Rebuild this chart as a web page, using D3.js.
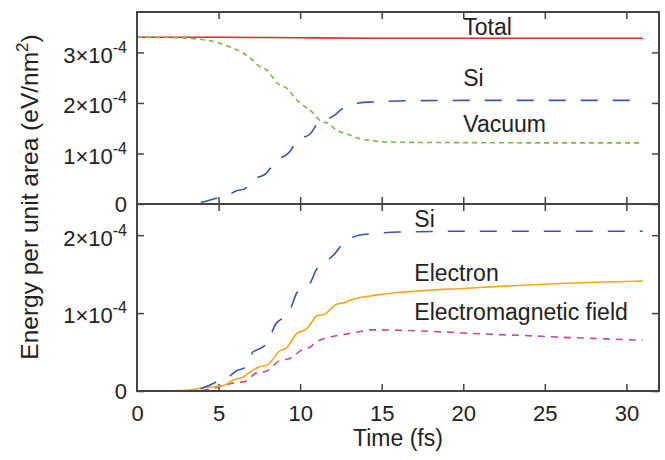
<!DOCTYPE html>
<html>
<head>
<meta charset="utf-8">
<script src="https://cdn.jsdelivr.net/npm/d3@7"></script>
<style>
  body { margin: 0; background: #fff; }
  svg { display: block; font-family: "Liberation Sans", Arial, Helvetica, sans-serif; }
  .tick line { stroke: #444; stroke-width: 1.5; }
  .tick text { fill: #222; font-size: 22px; }
  .frame { fill: none; stroke: #444; stroke-width: 2; }
  .label { fill: #222; font-size: 23px; }
</style>
</head>
<body>
<div id="chart"></div>
<script>
// energies in units of 1e-4 eV/nm^2, time in fs
const totalT = [0, 5, 10, 15, 20, 25, 31];
const totalE = [3.30, 3.30, 3.29, 3.28, 3.28, 3.28, 3.28];

const siT = [0, 3.5, 3.9, 4.4, 4.8, 5.3, 5.6, 6.1, 6.6, 6.9, 7.1, 7.5, 7.9, 8.2, 8.5, 9.1, 9.4, 9.8, 10.2, 10.6,
  11.0, 11.4, 11.8, 12.2, 12.6, 13.1, 13.6, 14.5, 16, 20, 25, 31];
const siE = [0, 0, 0.03, 0.07, 0.11, 0.15, 0.18, 0.26, 0.30, 0.40, 0.50, 0.54, 0.60, 0.72, 0.86, 0.96, 1.05, 1.26, 1.32, 1.38,
  1.56, 1.65, 1.70, 1.78, 1.89, 1.96, 2.00, 2.02, 2.04, 2.05, 2.05, 2.05];

const vacT = [0, 2.6, 3.85, 4.9, 5.5, 6.2, 6.9, 7.4, 8.0, 8.6, 9.25, 9.7, 10.2, 10.8, 11.3, 11.7, 12.2, 13.0, 13.8,
  14.5, 15.1, 16.7, 20, 25, 31];
const vacE = [3.30, 3.29, 3.26, 3.20, 3.13, 3.04, 2.90, 2.75, 2.64, 2.39, 2.27, 2.09, 1.95, 1.80, 1.63, 1.60, 1.47, 1.37, 1.28,
  1.25, 1.23, 1.22, 1.215, 1.21, 1.21];

const elT = [0, 3, 4, 4.7, 5.3, 5.9, 6.5, 6.9, 7.5, 8.0, 8.3, 8.7, 9.15, 9.4, 9.8, 10.35, 10.6, 11.0, 11.55, 11.85,
  12.2, 12.8, 13.2, 13.7, 14.3, 15, 16, 17, 18, 20, 22, 24, 26, 28, 31];
const elE = [0, 0.01, 0.04, 0.055, 0.07, 0.14, 0.18, 0.24, 0.31, 0.335, 0.40, 0.51, 0.55, 0.62, 0.74, 0.79, 0.85, 0.96, 0.99, 1.05,
  1.11, 1.14, 1.175, 1.20, 1.22, 1.24, 1.265, 1.28, 1.295, 1.315, 1.34, 1.36, 1.38, 1.395, 1.41];

const emT = [0, 3.5, 4.7, 5.4, 6.0, 6.6, 7.3, 7.9, 8.75, 9.4, 10.2, 10.6, 11.0, 11.6, 12.2, 12.8, 13.6, 14.3,
  15, 16, 18, 20, 22, 24, 26, 28, 31];
const emE = [0, 0, 0.035, 0.077, 0.107, 0.12, 0.23, 0.25, 0.39, 0.42, 0.54, 0.56, 0.63, 0.68, 0.71, 0.73, 0.76, 0.785,
  0.785, 0.78, 0.765, 0.745, 0.725, 0.71, 0.69, 0.675, 0.65];

const xTicks = [0, 5, 10, 15, 20, 25, 30];
const topTicks = [0, 1, 2, 3];
const botTicks = [0, 1, 2];

const topLabels = [{text: 'Total', t: 20, e: 3.35}, {text: 'Si', t: 20, e: 2.34}, {text: 'Vacuum', t: 20, e: 1.43}];
const botLabels = [{text: 'Si', t: 17, e: 2.11}, {text: 'Electron', t: 17, e: 1.41}, {text: 'Electromagnetic field', t: 17, e: 0.91}];

const W = 665, H = 460;
const L = 137, R = 659, T = 12, MID = 204, B = 391;

const svg = d3.select('#chart').append('svg').attr('width', W).attr('height', H);

const x = d3.scaleLinear().domain([0, 32]).range([L, R]);
const yTop = d3.scaleLinear().domain([0, 3.8]).range([MID, T]);
const yBot = d3.scaleLinear().domain([0, 2.4]).range([B, MID]);

const zip = (ts, es) => ts.map((t, i) => [t, es[i]]);

const drawPanel = (y, series, ticks, labels) => {
  const g = svg.append('g');
  // y ticks left with labels
  const yl = g.append('g').attr('transform', `translate(${L},0)`)
    .call(d3.axisLeft(y).tickValues(ticks).tickSize(-7).tickPadding(10).tickFormat(''));
  yl.select('.domain').remove();
  yl.selectAll('.tick text').each(function(d) {
    const t = d3.select(this);
    if (d === 0) { t.text('0').attr('dy', '0.34em'); return; }
    t.attr('dy', '0.45em');
    t.append('tspan').text(d + '\u00d710');
    t.append('tspan').text('-4').attr('font-size', '16px').attr('dy', '-10');
  });
  const yr = g.append('g').attr('transform', `translate(${R},0)`)
    .call(d3.axisRight(y).tickValues(ticks).tickSize(-7).tickFormat(''));
  yr.select('.domain').remove();
  // x ticks along top and bottom edge of this panel
  const [y0, y1] = y.range();
  const xb = g.append('g').attr('transform', `translate(0,${y0})`)
    .call(d3.axisBottom(x).tickValues(xTicks.slice(1)).tickSize(-7).tickFormat(''));
  xb.select('.domain').remove();
  const xt = g.append('g').attr('transform', `translate(0,${y1})`)
    .call(d3.axisTop(x).tickValues(xTicks.slice(1)).tickSize(-7).tickFormat(''));
  xt.select('.domain').remove();

  series.forEach(s => {
    g.append('path')
      .datum(zip(s.t, s.e))
      .attr('fill', 'none')
      .attr('stroke', s.color)
      .attr('stroke-width', 1.6)
      .attr('stroke-dasharray', s.dash)
      .attr('d', d3.line().x(d => x(d[0])).y(d => y(d[1])).curve(d3.curveMonotoneX));
  });

  g.selectAll('.label').data(labels).enter().append('text')
    .classed('label', true)
    .attr('x', d => x(d.t))
    .attr('y', d => y(d.e))
    .text(d => d.text);

  g.append('rect').classed('frame', true)
    .attr('x', L).attr('y', y1).attr('width', R - L).attr('height', y0 - y1);
};

const RED = '#e8262d', BLUE = '#3657a7', GREEN = '#72bf44', ORANGE = '#f9a61a', MAGENTA = '#c24b9f';

drawPanel(yTop, [
  {t: totalT, e: totalE, color: RED, dash: null},
  {t: vacT, e: vacE, color: GREEN, dash: '5,4'},
  {t: siT, e: siE, color: BLUE, dash: '17,15'},
], topTicks, topLabels);

drawPanel(yBot, [
  {t: emT, e: emE, color: MAGENTA, dash: '7,6'},
  {t: elT, e: elE, color: ORANGE, dash: null},
  {t: siT, e: siE, color: BLUE, dash: '17,15'},
], botTicks, botLabels);

// x tick labels under the bottom panel
const xa = svg.append('g').attr('transform', `translate(0,${B})`)
  .call(d3.axisBottom(x).tickValues(xTicks).tickSize(0).tickPadding(14));
xa.select('.domain').remove();

svg.append('text').classed('label', true)
  .attr('x', (L + R) / 2).attr('y', 446)
  .attr('text-anchor', 'middle')
  .text('Time (fs)');

const yt = svg.append('text').classed('label', true)
  .attr('transform', 'translate(38,197) rotate(-90)')
  .attr('text-anchor', 'middle')
  .style('font-size', '24.5px');
yt.append('tspan').text('Energy per unit area (eV/nm');
yt.append('tspan').text('2').attr('font-size', '17px').attr('dy', '-10');
yt.append('tspan').text(')').attr('dy', '10');
</script>
</body>
</html>
